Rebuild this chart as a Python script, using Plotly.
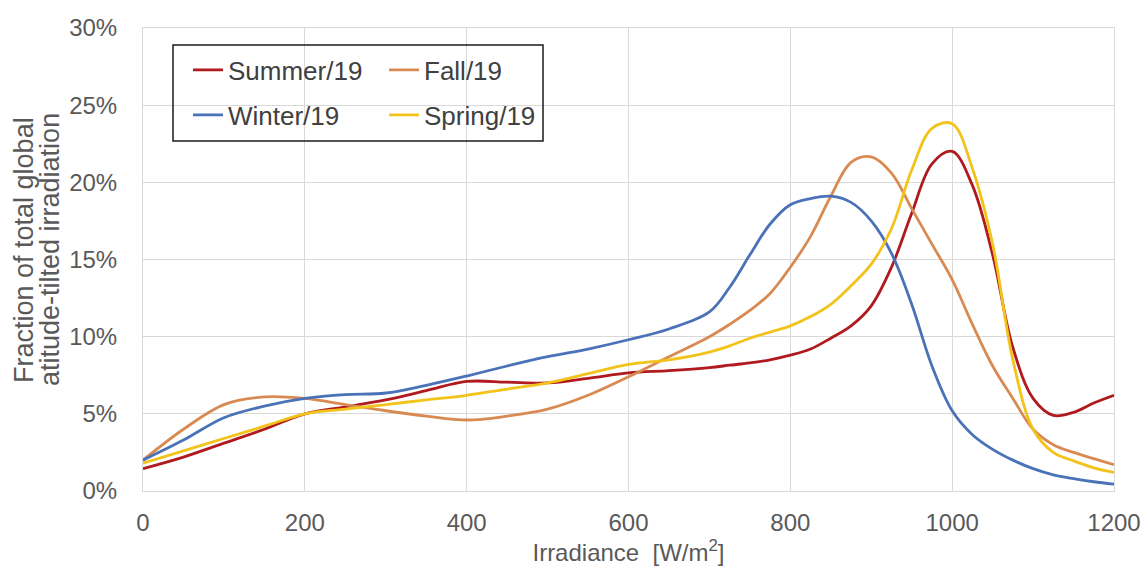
import plotly.graph_objects as go

# Irradiance bins [W/m2]
irradiance = [0, 50, 100, 150, 200, 250, 300, 350, 400, 450, 500, 550, 600, 650, 700,
              725, 750, 775, 800, 825, 850, 875, 900, 925, 950, 975, 1000, 1025, 1050,
              1075, 1100, 1125, 1150, 1175, 1200]

# Fraction of total global altitude-tilted irradiation (%)
summer = [1.45, 2.2, 3.1, 4.0, 5.0, 5.45, 5.9, 6.5, 7.1, 7.05, 7.0, 7.3, 7.65, 7.8, 8.0,
          8.15, 8.3, 8.5, 8.8, 9.2, 9.9, 10.7, 12.0, 14.5, 18.0, 21.2, 22.0, 19.8, 15.3,
          9.3, 6.0, 4.9, 5.1, 5.7, 6.2]
fall = [2.0, 4.0, 5.6, 6.1, 6.0, 5.6, 5.2, 4.85, 4.6, 4.85, 5.3, 6.2, 7.4, 8.7, 10.0,
        10.8, 11.7, 12.8, 14.5, 16.5, 19.1, 21.3, 21.65, 20.6, 18.3, 16.0, 13.7, 10.8, 8.1,
        6.0, 4.0, 3.0, 2.5, 2.1, 1.7]
winter = [2.0, 3.3, 4.75, 5.5, 6.0, 6.25, 6.35, 6.85, 7.45, 8.1, 8.7, 9.2, 9.8, 10.5, 11.6,
          13.2, 15.3, 17.3, 18.55, 18.95, 19.1, 18.7, 17.5, 15.4, 12.1, 8.1, 5.2, 3.65, 2.7,
          2.0, 1.45, 1.05, 0.8, 0.6, 0.45]
spring = [1.8, 2.6, 3.4, 4.2, 5.0, 5.3, 5.6, 5.9, 6.2, 6.6, 7.0, 7.6, 8.2, 8.5, 9.0,
          9.4, 9.9, 10.3, 10.7, 11.3, 12.1, 13.3, 14.7, 17.0, 20.8, 23.5, 23.8, 20.9, 16.0,
          8.5, 4.0, 2.5, 1.95, 1.5, 1.2]

series_names = ["Summer/19", "Fall/19", "Winter/19", "Spring/19"]
series_values = [summer, fall, winter, spring]
series_colors = ["#B01A1E", "#D98A52", "#4A72B8", "#F2C31A"]
legend_ids = ["legend", "legend2", "legend3", "legend4"]

x_ticks = [0, 200, 400, 600, 800, 1000, 1200]
y_ticks = [0, 5, 10, 15, 20, 25, 30]
y_tick_labels = ["0%", "5%", "10%", "15%", "20%", "25%", "30%"]
y_title_lines = ["Fraction of total global", "atitude-tilted irradiation"]

font_family = "Liberation Sans, Arial, sans-serif"
text_color = "#595959"
grid_color = "#D9D9D9"

fig = go.Figure()
for name, vals, col, lg in zip(series_names, series_values, series_colors, legend_ids):
    fig.add_trace(go.Scatter(
        x=irradiance, y=[v / 100 for v in vals], mode="lines", name=name,
        line=dict(color=col, width=2.8, shape="spline", smoothing=1.0),
        legend=lg, showlegend=True,
    ))

W, H = 1146, 570
L, R, T, B = 143, 32, 28, 79
pw, ph = W - L - R, H - T - B

def px_x(p):
    return (p - L) / pw

def px_y(p):
    return (H - B - p) / ph

leg_font = dict(family=font_family, size=26, color="#404040")
common_leg = dict(bgcolor="rgba(0,0,0,0)", borderwidth=0, font=leg_font,
                  xanchor="left", yanchor="middle", itemwidth=30)

annotations = []
for line_text, cx in zip(y_title_lines, [24, 50]):
    annotations.append(dict(
        text=line_text, xref="paper", yref="paper", x=px_x(cx), y=px_y(250),
        xanchor="center", yanchor="middle", textangle=-90, showarrow=False,
        font=dict(family=font_family, size=27, color=text_color),
    ))

fig.update_layout(
    width=W, height=H,
    margin=dict(l=L, r=R, t=T, b=B, autoexpand=False),
    paper_bgcolor="white", plot_bgcolor="white",
    showlegend=True,
    font=dict(family=font_family, size=24, color=text_color),
    legend=dict(x=px_x(188), y=px_y(70), **common_leg),
    legend2=dict(x=px_x(384), y=px_y(70), **common_leg),
    legend3=dict(x=px_x(188), y=px_y(115), **common_leg),
    legend4=dict(x=px_x(384), y=px_y(115), **common_leg),
    xaxis=dict(
        range=[0, 1200], tickvals=x_ticks, ticktext=[str(v) for v in x_ticks],
        showgrid=True, gridcolor=grid_color, gridwidth=1, automargin=False,
        showline=True, linecolor=grid_color, linewidth=1, mirror=True,
        zeroline=False, ticks="outside", ticklen=10, tickcolor="rgba(0,0,0,0)",
        tickfont=dict(family=font_family, size=24, color=text_color),
        title=dict(text="Irradiance  [W/m<sup>2</sup>]", standoff=4,
                   font=dict(family=font_family, size=24, color=text_color)),
    ),
    yaxis=dict(
        range=[0, 0.30], tickvals=[v / 100 for v in y_ticks], ticktext=y_tick_labels,
        showgrid=True, gridcolor=grid_color, gridwidth=1, automargin=False,
        showline=True, linecolor=grid_color, linewidth=1, mirror=True,
        zeroline=False, ticks="outside", ticklen=20, tickcolor="rgba(0,0,0,0)",
        tickfont=dict(family=font_family, size=24, color=text_color),
    ),
    annotations=annotations,
    shapes=[dict(type="rect", xref="paper", yref="paper",
                 x0=px_x(173), x1=px_x(543), y0=px_y(141), y1=px_y(45),
                 line=dict(color="#1a1a1a", width=1.5), fillcolor="rgba(0,0,0,0)")],
)

fig.write_html("out.html")
